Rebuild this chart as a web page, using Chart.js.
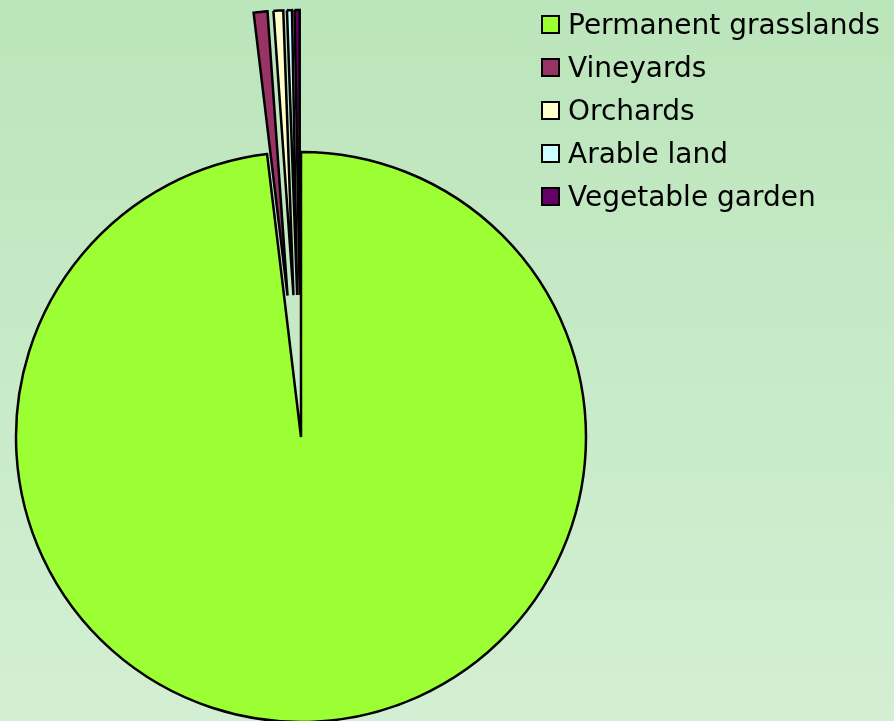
<!DOCTYPE html>
<html lang="en">
<head>
    <meta charset="UTF-8">
    <title>Land use</title>
    <script src="https://cdn.jsdelivr.net/npm/chart.js"></script>
    <style>
        html, body {
            margin: 0;
            padding: 0;
        }
        body {
            width: 894px;
            height: 721px;
            overflow: hidden;
            position: relative;
            background: linear-gradient(to bottom, #bbe5bb, #d3efd3);
            font-family: "DejaVu Sans", Verdana, sans-serif;
        }
        #chart {
            position: absolute;
            left: 0;
            top: 0;
        }
        .legend {
            position: absolute;
            left: 541px;
            top: 3px;
            list-style: none;
            margin: 0;
            padding: 0;
        }
        .legend li {
            display: flex;
            align-items: center;
            height: 43px;
            font-size: 28px;
            color: #000;
            white-space: nowrap;
        }
        .legend .box {
            width: 19px;
            height: 19px;
            box-sizing: border-box;
            border: 2px solid #000;
            margin-right: 8px;
            flex: none;
        }
    </style>
</head>
<body>
    <canvas id="chart" width="894" height="721"></canvas>
    <ul class="legend" id="legend"></ul>

    <script>
        // share of area, percent
        const categories = ['Permanent grasslands', 'Vineyards', 'Orchards', 'Arable land', 'Vegetable garden'];
        const shares = [98.1, 0.78, 0.55, 0.28, 0.29];
        const sliceColors = ['#9cff33', '#993366', '#ffffcc', '#ccffff', '#660066'];
        // how far each slice is pulled out of the pie, px
        const explode = [0, 142, 142, 142, 142];

        // pie that moves whole slices outwards (built-in offset also shrinks them)
        class ExplodedPie extends Chart.PieController {
            draw() {
                const ctx = this.chart.ctx;
                const shifts = this.getDataset().explode || [];
                this._cachedMeta.data.forEach((arc, i) => {
                    const d = shifts[i] || 0;
                    const mid = (arc.startAngle + arc.endAngle) / 2;
                    ctx.save();
                    ctx.translate(Math.cos(mid) * d, Math.sin(mid) * d);
                    arc.draw(ctx);
                    ctx.restore();
                });
            }
        }
        ExplodedPie.id = 'explodedPie';
        ExplodedPie.defaults = Chart.PieController.defaults;
        ExplodedPie.overrides = Chart.PieController.overrides;
        Chart.register(ExplodedPie);

        const ctx = document.getElementById('chart').getContext('2d');
        new Chart(ctx, {
            type: 'explodedPie',
            data: {
                labels: categories,
                datasets: [{
                    data: shares,
                    explode: explode,
                    backgroundColor: sliceColors,
                    borderColor: '#000',
                    borderWidth: 2.5,
                    borderJoinStyle: 'miter',
                    radius: 285,
                    clip: false
                }]
            },
            options: {
                responsive: false,
                animation: false,
                layout: {
                    padding: { left: 0, right: 292, top: 153, bottom: 0 }
                },
                plugins: {
                    legend: { display: false },
                    tooltip: { enabled: false }
                }
            }
        });

        // legend built from the same arrays
        const legend = document.getElementById('legend');
        categories.forEach((name, i) => {
            const li = document.createElement('li');
            const box = document.createElement('span');
            box.className = 'box';
            box.style.background = sliceColors[i];
            li.appendChild(box);
            li.appendChild(document.createTextNode(name));
            legend.appendChild(li);
        });
    </script>
</body>
</html>
